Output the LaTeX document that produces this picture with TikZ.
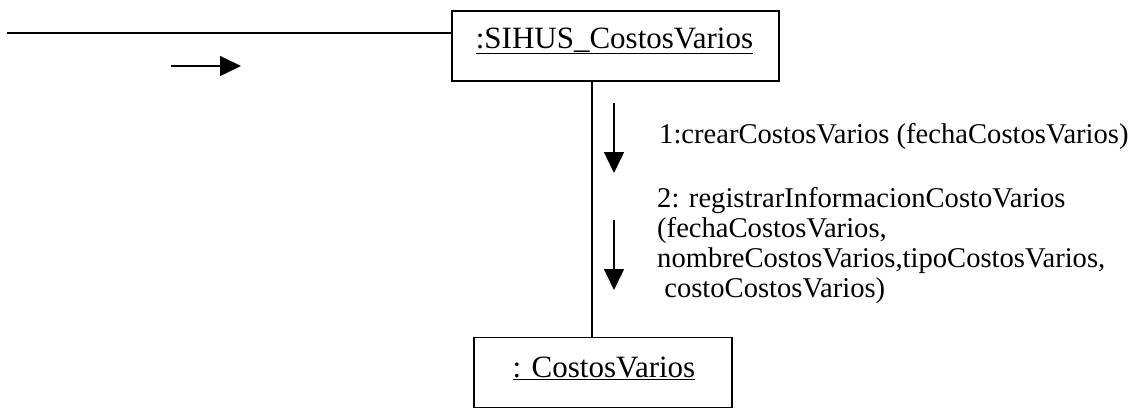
\documentclass[tikz,border=0pt]{standalone}
\usepackage{fontspec}
\setmainfont{Liberation Serif}
\usetikzlibrary{arrows.meta}
\begin{document}
\begin{tikzpicture}[x=1pt,y=-1pt,
  obj/.style={draw,line width=1.5pt,inner sep=0pt},
  objtxt/.style={anchor=base,inner sep=0pt,font=\fontsize{31}{34}\selectfont},
  lnk/.style={line width=1.5pt},
  msg/.style={line width=1.5pt,-{Triangle[length=21pt,width=20pt]}},
  lbl/.style={anchor=base west,inner sep=0pt,font=\fontsize{28.6}{30}\selectfont}]
\useasboundingbox (0,0) rectangle (1138,410);
\node[obj,minimum width=327pt,minimum height=70pt] (top) at (615.5,46) {};
\node[objtxt] (toptxt) at (614.5,48) {\underline{:SIHUS\_CostosVarios}};
\node[obj,minimum width=258pt,minimum height=70pt] (bot) at (603,372.5) {};
\node[objtxt] (bottxt) at (604,377) {\underline{: CostosVarios}};
\coordinate (lstart) at (7,33);
\draw[lnk] (lstart) -- (lstart -| top.west);
\draw[lnk] (top.south -| 592,0) -- (bot.north -| 592,0);
\coordinate (a0s) at (171,66);
\coordinate (a0e) at (241,66);
\draw[msg] (a0s) -- (a0e);
\coordinate (a1s) at (614,103);
\coordinate (a1e) at (614,173);
\draw[msg] (a1s) -- (a1e);
\coordinate (a2s) at (614,220);
\coordinate (a2e) at (614,290);
\draw[msg] (a2s) -- (a2e);
\node[lbl] (m1) at (659,143) {1:crearCostosVarios (fechaCostosVarios)};
\node[lbl] (m2a) at (657,207) {2: registrarInformacionCostoVarios};
\node[lbl] (m2b) at (657,237) {(fechaCostosVarios,};
\node[lbl] (m2c) at (657,267) {nombreCostosVarios,tipoCostosVarios,};
\node[lbl] (m2d) at (657,297) {\hspace{0.25em}costoCostosVarios)};
\end{tikzpicture}
\end{document}
